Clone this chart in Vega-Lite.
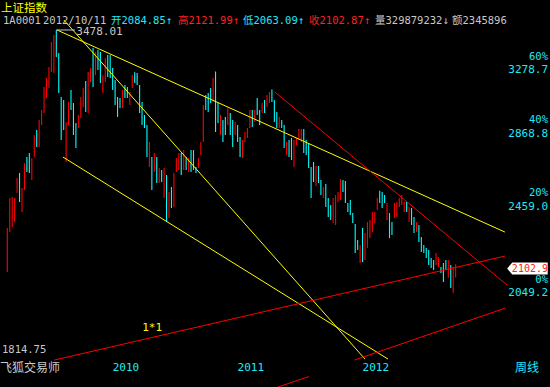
{
  "$schema": "https://vega.github.io/schema/vega-lite/v6.json",
  "width": 550,
  "height": 387,
  "autosize": {"type": "none"},
  "padding": 0,
  "background": "#000000",
  "config": {"view": {"stroke": null}, "axis": {"grid": false, "domain": false, "ticks": false}},
  "datasets": {
    "bars": [
      {"i":0,"h":2290.3,"l":2087.2,"d":"up"},{"i":1,"h":2440.0,"l":2271.1,"d":"up"},{"i":2,"h":2445.1,"l":2295.2,"d":"up"},{"i":3,"h":2440.0,"l":2319.5,"d":"up"},
      {"i":4,"h":2545.1,"l":2465.9,"d":"up"},{"i":5,"h":2572.2,"l":2419.5,"d":"down"},{"i":6,"h":2492.0,"l":2369.0,"d":"up"},{"i":7,"h":2627.0,"l":2481.4,"d":"up"},
      {"i":8,"h":2660.5,"l":2577.6,"d":"down"},{"i":9,"h":2683.1,"l":2572.2,"d":"down"},{"i":10,"h":2654.9,"l":2534.3,"d":"up"},{"i":11,"h":2787.0,"l":2660.5,"d":"up"},
      {"i":12,"h":2816.4,"l":2717.3,"d":"down"},{"i":13,"h":2876.4,"l":2717.3,"d":"up"},{"i":14,"h":2937.8,"l":2846.4,"d":"up"},{"i":15,"h":3084.0,"l":2919.4,"d":"up"},
      {"i":16,"h":3143.1,"l":3013.2,"d":"up"},{"i":17,"h":3217.0,"l":3077.5,"d":"up"},{"i":18,"h":3391.2,"l":3183.2,"d":"up"},{"i":19,"h":3441.7,"l":3176.5,"d":"up"},
      {"i":20,"h":3478.01,"l":3285.6,"d":"down"},{"i":21,"h":3313.4,"l":3045.2,"d":"down"},{"i":22,"h":3019.6,"l":2757.6,"d":"down"},{"i":23,"h":3000.4,"l":2816.4,"d":"down"},
      {"i":24,"h":2864.4,"l":2632.6,"d":"up"},{"i":25,"h":2987.9,"l":2846.4,"d":"up"},{"i":26,"h":3064.4,"l":2937.8,"d":"down"},{"i":27,"h":2981.6,"l":2787.0,"d":"down"},
      {"i":28,"h":2858.4,"l":2711.5,"d":"down"},{"i":29,"h":2907.1,"l":2828.4,"d":"up"},{"i":30,"h":3019.6,"l":2888.7,"d":"up"},{"i":31,"h":3077.5,"l":2956.6,"d":"up"},
      {"i":32,"h":3123.3,"l":2925.5,"d":"down"},{"i":33,"h":3183.2,"l":2919.4,"d":"up"},{"i":34,"h":3210.1,"l":3116.7,"d":"up"},{"i":35,"h":3348.5,"l":3084.0,"d":"down"},
      {"i":36,"h":3320.4,"l":3163.2,"d":"up"},{"i":37,"h":3334.3,"l":3196.5,"d":"down"},{"i":38,"h":3320.4,"l":3110.2,"d":"down"},{"i":39,"h":3163.2,"l":3045.2,"d":"up"},
      {"i":40,"h":3278.6,"l":3116.7,"d":"up"},{"i":41,"h":3299.5,"l":3149.8,"d":"down"},{"i":42,"h":3299.5,"l":3143.1,"d":"down"},{"i":43,"h":3210.1,"l":3064.4,"d":"down"},
      {"i":44,"h":3129.8,"l":2969.1,"d":"down"},{"i":45,"h":3019.6,"l":2894.8,"d":"down"},{"i":46,"h":3013.2,"l":2950.3,"d":"down"},{"i":47,"h":3064.4,"l":2950.3,"d":"up"},
      {"i":48,"h":3097.1,"l":3013.2,"d":"down"},{"i":49,"h":3084.0,"l":3013.2,"d":"down"},{"i":50,"h":3051.6,"l":2969.1,"d":"up"},{"i":51,"h":3163.2,"l":3077.5,"d":"up"},
      {"i":52,"h":3181.0,"l":3110.2,"d":"down"},{"i":53,"h":3176.5,"l":3097.1,"d":"down"},{"i":54,"h":3097.1,"l":2919.4,"d":"down"},{"i":55,"h":2987.9,"l":2846.4,"d":"down"},
      {"i":56,"h":2907.1,"l":2828.4,"d":"down"},{"i":57,"h":2846.4,"l":2660.5,"d":"down"},{"i":58,"h":2746.1,"l":2605.0,"d":"up"},{"i":59,"h":2660.5,"l":2481.4,"d":"down"},
      {"i":60,"h":2683.1,"l":2577.6,"d":"up"},{"i":61,"h":2660.5,"l":2518.4,"d":"down"},{"i":62,"h":2599.4,"l":2518.4,"d":"up"},{"i":63,"h":2588.4,"l":2523.5,"d":"down"},
      {"i":64,"h":2599.4,"l":2440.0,"d":"up"},{"i":65,"h":2561.4,"l":2319.5,"d":"down"},{"i":66,"h":2471.0,"l":2339.1,"d":"up"},{"i":67,"h":2497.4,"l":2389.0,"d":"down"},
      {"i":68,"h":2572.2,"l":2394.1,"d":"up"},{"i":69,"h":2654.9,"l":2577.6,"d":"up"},{"i":70,"h":2683.1,"l":2588.4,"d":"up"},{"i":71,"h":2683.1,"l":2561.4,"d":"down"},
      {"i":72,"h":2700.0,"l":2588.4,"d":"up"},{"i":73,"h":2660.5,"l":2588.4,"d":"down"},{"i":74,"h":2654.9,"l":2577.6,"d":"up"},{"i":75,"h":2700.0,"l":2577.6,"d":"down"},
      {"i":76,"h":2700.0,"l":2588.4,"d":"down"},{"i":77,"h":2605.0,"l":2572.2,"d":"down"},{"i":78,"h":2654.9,"l":2599.4,"d":"up"},{"i":79,"h":2746.1,"l":2671.8,"d":"up"},
      {"i":80,"h":2969.1,"l":2746.1,"d":"up"},{"i":81,"h":3032.4,"l":2937.8,"d":"down"},{"i":82,"h":3045.2,"l":2925.5,"d":"down"},{"i":83,"h":3077.5,"l":2981.6,"d":"down"},
      {"i":84,"h":3143.1,"l":2987.9,"d":"up"},{"i":85,"h":3186.0,"l":2804.6,"d":"down"},{"i":86,"h":2987.9,"l":2858.4,"d":"down"},{"i":87,"h":2907.1,"l":2787.0,"d":"up"},
      {"i":88,"h":2876.4,"l":2746.1,"d":"down"},{"i":89,"h":2894.8,"l":2787.0,"d":"down"},{"i":90,"h":2950.3,"l":2846.4,"d":"up"},{"i":91,"h":2919.4,"l":2787.0,"d":"down"},
      {"i":92,"h":2876.4,"l":2717.3,"d":"down"},{"i":93,"h":2864.4,"l":2787.0,"d":"up"},{"i":94,"h":2846.4,"l":2746.1,"d":"down"},{"i":95,"h":2775.2,"l":2660.5,"d":"down"},
      {"i":96,"h":2757.6,"l":2654.9,"d":"up"},{"i":97,"h":2804.6,"l":2746.1,"d":"up"},{"i":98,"h":2828.4,"l":2769.4,"d":"up"},{"i":99,"h":2937.8,"l":2828.4,"d":"up"},
      {"i":100,"h":2937.8,"l":2834.4,"d":"down"},{"i":101,"h":2937.8,"l":2864.4,"d":"up"},{"i":102,"h":3013.2,"l":2907.1,"d":"down"},{"i":103,"h":2937.8,"l":2846.4,"d":"down"},
      {"i":104,"h":2981.6,"l":2919.4,"d":"up"},{"i":105,"h":3000.4,"l":2919.4,"d":"down"},{"i":106,"h":3032.4,"l":2956.6,"d":"up"},{"i":107,"h":3051.6,"l":2981.6,"d":"up"},
      {"i":108,"h":3067.0,"l":2987.9,"d":"down"},{"i":109,"h":3000.4,"l":2864.4,"d":"down"},{"i":110,"h":2925.5,"l":2828.4,"d":"down"},{"i":111,"h":2894.8,"l":2828.4,"d":"up"},
      {"i":112,"h":2876.4,"l":2828.4,"d":"down"},{"i":113,"h":2846.4,"l":2711.5,"d":"down"},{"i":114,"h":2746.1,"l":2671.8,"d":"up"},{"i":115,"h":2757.6,"l":2660.5,"d":"down"},
      {"i":116,"h":2769.4,"l":2643.6,"d":"down"},{"i":117,"h":2757.6,"l":2605.0,"d":"up"},{"i":118,"h":2769.4,"l":2728.8,"d":"up"},{"i":119,"h":2822.4,"l":2763.5,"d":"up"},
      {"i":120,"h":2822.4,"l":2746.1,"d":"up"},{"i":121,"h":2822.4,"l":2683.1,"d":"down"},{"i":122,"h":2757.6,"l":2671.8,"d":"down"},{"i":123,"h":2740.3,"l":2599.4,"d":"down"},
      {"i":124,"h":2605.0,"l":2440.0,"d":"down"},{"i":125,"h":2632.6,"l":2523.5,"d":"down"},{"i":126,"h":2610.5,"l":2502.6,"d":"up"},{"i":127,"h":2610.5,"l":2518.4,"d":"down"},
      {"i":128,"h":2534.3,"l":2455.5,"d":"down"},{"i":129,"h":2497.4,"l":2440.0,"d":"up"},{"i":130,"h":2513.1,"l":2394.1,"d":"down"},{"i":131,"h":2440.0,"l":2344.1,"d":"down"},
      {"i":132,"h":2404.3,"l":2329.2,"d":"down"},{"i":133,"h":2440.0,"l":2314.6,"d":"up"},{"i":134,"h":2455.5,"l":2304.9,"d":"up"},{"i":135,"h":2471.0,"l":2419.5,"d":"up"},
      {"i":136,"h":2539.7,"l":2429.6,"d":"up"},{"i":137,"h":2534.3,"l":2471.0,"d":"down"},{"i":138,"h":2528.9,"l":2414.4,"d":"down"},{"i":139,"h":2414.4,"l":2369.0,"d":"down"},
      {"i":140,"h":2429.6,"l":2354.0,"d":"down"},{"i":141,"h":2364.0,"l":2314.6,"d":"down"},{"i":142,"h":2309.8,"l":2172.6,"d":"down"},{"i":143,"h":2233.0,"l":2186.3,"d":"down"},
      {"i":144,"h":2209.7,"l":2127.3,"d":"up"},{"i":145,"h":2290.3,"l":2131.8,"d":"down"},{"i":146,"h":2266.3,"l":2140.7,"d":"up"},{"i":147,"h":2319.5,"l":2195.6,"d":"up"},
      {"i":148,"h":2329.2,"l":2242.5,"d":"up"},{"i":149,"h":2369.0,"l":2271.1,"d":"up"},{"i":150,"h":2369.0,"l":2314.6,"d":"up"},{"i":151,"h":2440.0,"l":2378.9,"d":"up"},
      {"i":152,"h":2478.4,"l":2414.4,"d":"down"},{"i":153,"h":2471.0,"l":2389.0,"d":"down"},{"i":154,"h":2455.5,"l":2414.4,"d":"down"},{"i":155,"h":2414.4,"l":2329.2,"d":"up"},
      {"i":156,"h":2364.0,"l":2242.5,"d":"down"},{"i":157,"h":2319.5,"l":2256.8,"d":"down"},{"i":158,"h":2414.4,"l":2339.1,"d":"up"},{"i":159,"h":2419.5,"l":2344.1,"d":"up"},
      {"i":160,"h":2440.0,"l":2394.1,"d":"up"},{"i":161,"h":2455.5,"l":2404.3,"d":"up"},{"i":162,"h":2419.5,"l":2369.0,"d":"up"},{"i":163,"h":2419.5,"l":2369.0,"d":"down"},
      {"i":164,"h":2394.1,"l":2319.5,"d":"up"},{"i":165,"h":2389.0,"l":2304.9,"d":"down"},{"i":166,"h":2344.1,"l":2266.3,"d":"down"},{"i":167,"h":2319.5,"l":2271.1,"d":"up"},
      {"i":168,"h":2304.9,"l":2223.7,"d":"down"},{"i":169,"h":2247.3,"l":2177.2,"d":"down"},{"i":170,"h":2209.7,"l":2172.6,"d":"down"},{"i":171,"h":2195.6,"l":2149.8,"d":"down"},
      {"i":172,"h":2186.3,"l":2118.4,"d":"down"},{"i":173,"h":2149.8,"l":2104.9,"d":"down"},{"i":174,"h":2140.7,"l":2096.0,"d":"down"},{"i":175,"h":2172.6,"l":2118.4,"d":"up"},
      {"i":176,"h":2154.4,"l":2109.4,"d":"up"},{"i":177,"h":2109.4,"l":2082.9,"d":"down"},{"i":178,"h":2127.3,"l":2043.6,"d":"down"},{"i":179,"h":2140.7,"l":2096.0,"d":"down"},
      {"i":180,"h":2140.7,"l":2061.0,"d":"up"},{"i":181,"h":2118.4,"l":2017.9,"d":"down"},{"i":182,"h":2109.4,"l":1996.7,"d":"up"},{"i":183,"h":2121.99,"l":2063.09,"d":"up"}
    ],
    "lines": [
      {"i1":20.3,"v1":3478.01,"i2":203.1,"v2":2271.1,"tool":"trend"},
      {"i1":22.7,"v1":2660.5,"i2":155.4,"v2":1737.3,"tool":"trend"},
      {"i1":23.1,"v1":3552.0,"i2":146.0,"v2":1737.3,"tool":"trend"},
      {"i1":109.2,"v1":3051.6,"i2":204.0,"v2":2030.8,"tool":"gann"},
      {"i1":19.2,"v1":1733.7,"i2":203.1,"v2":2158.9,"tool":"gann"},
      {"i1":141.7,"v1":1733.7,"i2":203.3,"v2":1934.6,"tool":"gann"},
      {"i1":104.4,"v1":1620.5,"i2":123.1,"v2":1674.4,"tool":"gann"}
    ],
    "peak": [{"i":20,"v":3478.01}],
    "levels": [
      {"pct":"60%","v":3278.7},{"pct":"40%","v":2868.8},{"pct":"20%","v":2459.0},{"pct":"0%","v":2049.2}
    ],
    "years": [{"year":"2010","i":43},{"year":"2011","i":94},{"year":"2012","i":145}],
    "quote": [{"open":2084.85,"high":2121.99,"low":2063.09,"close":2102.87}]
  },
  "resolve": {"scale": {"color": "independent"}},
  "layer": [
    {
      "data": {"name": "bars"},
      "mark": {"type": "rule", "strokeWidth": 1.1},
      "encoding": {
        "x": {"field": "i", "type": "quantitative", "scale": {"domain": [-2.98, 221.51], "nice": false, "zero": false}, "axis": null},
        "y": {"field": "l", "type": "quantitative", "scale": {"type": "log", "domain": [1637.9, 3705.2], "nice": false}, "axis": null},
        "y2": {"field": "h"},
        "color": {"field": "d", "type": "nominal", "scale": {"domain": ["up", "down"], "range": ["#FF0000", "#00FFFF"]}, "legend": null}
      }
    },
    {
      "data": {"name": "lines"},
      "mark": {"type": "rule", "strokeWidth": 1, "clip": true},
      "encoding": {
        "x": {"field": "i1", "type": "quantitative", "axis": null},
        "x2": {"field": "i2"},
        "y": {"field": "v1", "type": "quantitative", "axis": null},
        "y2": {"field": "v2"},
        "color": {"field": "tool", "type": "nominal", "scale": {"domain": ["trend", "gann"], "range": ["#FFFF00", "#FF0000"]}, "legend": null}
      }
    },
    {
      "data": {"name": "peak"},
      "mark": {"type": "rule", "strokeWidth": 1, "color": "#C8C8C8"},
      "encoding": {
        "x": {"field": "i", "type": "quantitative", "axis": null},
        "x2": {"datum": 27.6},
        "y": {"field": "v", "type": "quantitative", "axis": null}
      }
    },
    {
      "data": {"name": "peak"},
      "mark": {"type": "text", "align": "left", "baseline": "middle", "dx": 20, "dy": 2, "font": "DejaVu Sans Mono", "fontSize": 11, "color": "#C8C8C8"},
      "encoding": {
        "x": {"field": "i", "type": "quantitative", "axis": null},
        "y": {"field": "v", "type": "quantitative", "axis": null},
        "text": {"field": "v", "type": "quantitative", "format": ".2f"}
      }
    },
    {
      "data": {"name": "levels"},
      "mark": {"type": "text", "align": "right", "baseline": "middle", "dy": -1, "font": "DejaVu Sans Mono", "fontSize": 10.5, "color": "#20E8F8"},
      "encoding": {
        "x": {"datum": 220.7, "type": "quantitative", "axis": null},
        "y": {"field": "v", "type": "quantitative", "axis": null},
        "text": {"field": "pct", "type": "nominal"}
      }
    },
    {
      "data": {"name": "levels"},
      "mark": {"type": "text", "align": "right", "baseline": "middle", "dy": 12.5, "font": "DejaVu Sans Mono", "fontSize": 11, "color": "#20E8F8"},
      "encoding": {
        "x": {"datum": 220.7, "type": "quantitative", "axis": null},
        "y": {"field": "v", "type": "quantitative", "axis": null},
        "text": {"field": "v", "type": "quantitative", "format": ".1f"}
      }
    },
    {
      "data": {"name": "years"},
      "mark": {"type": "text", "align": "left", "baseline": "middle", "y": 368, "font": "DejaVu Sans Mono", "fontSize": 11, "color": "#20E8F8"},
      "encoding": {
        "x": {"field": "i", "type": "quantitative", "axis": null},
        "text": {"field": "year", "type": "nominal"}
      }
    },
    {
      "data": {"name": "quote"},
      "mark": {"type": "point", "shape": "M-1,0 L-0.75,-0.3 L1,-0.3 L1,0.3 L-0.75,0.3 Z", "size": 1640, "filled": true, "fill": "#FFFFFF", "stroke": null, "opacity": 1},
      "encoding": {
        "x": {"datum": 212.3, "type": "quantitative", "axis": null},
        "y": {"field": "close", "type": "quantitative", "axis": null}
      }
    },
    {
      "data": {"name": "quote"},
      "mark": {"type": "text", "align": "center", "baseline": "middle", "dx": 2.5, "dy": 0, "font": "DejaVu Sans Mono", "fontSize": 10, "color": "#FF2020"},
      "encoding": {
        "x": {"datum": 212.3, "type": "quantitative", "axis": null},
        "y": {"field": "close", "type": "quantitative", "axis": null},
        "text": {"field": "close", "type": "quantitative", "format": ".1f"}
      }
    },
    {
      "data": {"values": [{}]},
      "mark": {"type": "text", "align": "center", "baseline": "middle", "font": "DejaVu Sans Mono", "fontSize": 11, "color": "#FFFF00", "text": "1*1"},
      "encoding": {
        "x": {"datum": 59.1, "type": "quantitative", "axis": null},
        "y": {"datum": 1854.8, "type": "quantitative", "axis": null}
      }
    },
    {"data": {"values": [{}]}, "mark": {"type": "text", "x": 1, "y": 8.5, "align": "left", "baseline": "middle", "font": "Noto Sans CJK SC", "fontSize": 11.5, "color": "#FFFF00", "text": "上证指数"}, "encoding": {}},
    {"data": {"values": [{}]}, "mark": {"type": "text", "x": 3, "y": 21, "align": "left", "baseline": "middle", "font": "DejaVu Sans Mono", "fontSize": 10.5, "color": "#C8C8C8", "text": "1A0001"}, "encoding": {}},
    {"data": {"values": [{}]}, "mark": {"type": "text", "x": 43, "y": 21, "align": "left", "baseline": "middle", "font": "DejaVu Sans Mono", "fontSize": 10.5, "color": "#C8C8C8", "text": "2012/10/11"}, "encoding": {}},
    {"data": {"values": [{}]}, "mark": {"type": "text", "x": 111, "y": 21, "align": "left", "baseline": "middle", "font": "DejaVu Sans Mono, Noto Sans CJK SC", "fontSize": 10.5, "color": "#20E8F8", "text": "开2084.85↑"}, "encoding": {}},
    {"data": {"values": [{}]}, "mark": {"type": "text", "x": 178, "y": 21, "align": "left", "baseline": "middle", "font": "DejaVu Sans Mono, Noto Sans CJK SC", "fontSize": 10.5, "color": "#FF2020", "text": "高2121.99↑"}, "encoding": {}},
    {"data": {"values": [{}]}, "mark": {"type": "text", "x": 243, "y": 21, "align": "left", "baseline": "middle", "font": "DejaVu Sans Mono, Noto Sans CJK SC", "fontSize": 10.5, "color": "#20E8F8", "text": "低2063.09↑"}, "encoding": {}},
    {"data": {"values": [{}]}, "mark": {"type": "text", "x": 309, "y": 21, "align": "left", "baseline": "middle", "font": "DejaVu Sans Mono, Noto Sans CJK SC", "fontSize": 10.5, "color": "#FF2020", "text": "收2102.87↑"}, "encoding": {}},
    {"data": {"values": [{}]}, "mark": {"type": "text", "x": 375, "y": 21, "align": "left", "baseline": "middle", "font": "DejaVu Sans Mono, Noto Sans CJK SC", "fontSize": 10.5, "color": "#C8C8C8", "text": "量329879232↓"}, "encoding": {}},
    {"data": {"values": [{}]}, "mark": {"type": "text", "x": 452, "y": 21, "align": "left", "baseline": "middle", "font": "DejaVu Sans Mono, Noto Sans CJK SC", "fontSize": 10.5, "color": "#C8C8C8", "text": "额2345896"}, "encoding": {}},
    {"data": {"values": [{}]}, "mark": {"type": "text", "x": 2, "y": 350, "align": "left", "baseline": "middle", "font": "DejaVu Sans Mono", "fontSize": 10.5, "color": "#C8C8C8", "text": "1814.75"}, "encoding": {}},
    {"data": {"values": [{}]}, "mark": {"type": "text", "x": 0, "y": 368, "align": "left", "baseline": "middle", "font": "Noto Sans CJK SC", "fontSize": 12, "color": "#C8C8C8", "text": "飞狐交易师"}, "encoding": {}},
    {"data": {"values": [{}]}, "mark": {"type": "text", "x": 515, "y": 368, "align": "left", "baseline": "middle", "font": "Noto Sans CJK SC", "fontSize": 12, "color": "#20E8F8", "text": "周线"}, "encoding": {}}
  ]
}
